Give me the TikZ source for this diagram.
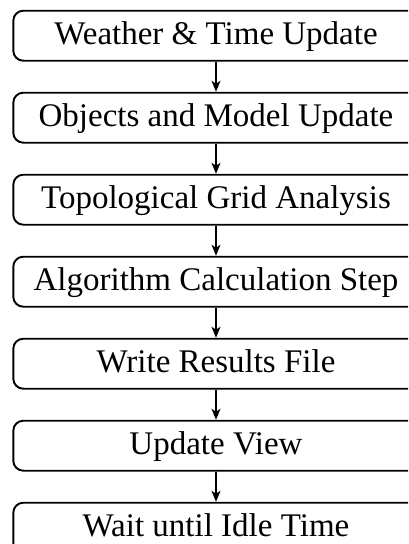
\documentclass[tikz,border=0pt]{standalone}
\usepackage{fontspec}
\setmainfont{Liberation Serif}
\usetikzlibrary{arrows.meta}

\tikzset{
  stepbox/.style={
    draw, line width=1.9pt, rounded corners=10pt,
    rectangle, minimum width=405.4pt, minimum height=50pt,
    inner sep=0pt, text height=22pt, text depth=4pt,
    font=\fontsize{33}{40}\selectfont
  },
  flow/.style={line width=1.4pt, -{Stealth[length=11pt,width=9pt,inset=3pt]}}
}

\begin{document}
\begin{tikzpicture}[x=1pt,y=1pt]
  \useasboundingbox (0,0) rectangle (408,-544);
  \clip (0,0) rectangle (408,-544);

  \node[stepbox] (b1) at (216,-35.7)  {Weather \& Time Update};
  \node[stepbox] (b2) at (216,-117.7) {Objects and Model Update};
  \node[stepbox] (b3) at (216,-199.7) {Topological Grid Analysis};
  \node[stepbox] (b4) at (216,-281.7) {Algorithm Calculation Step};
  \node[stepbox] (b5) at (216,-363.7) {Write Results File};
  \node[stepbox] (b6) at (216,-445.7) {Update View};
  \node[stepbox] (b7) at (216,-527.7) {Wait until Idle Time};

  \foreach \a/\b in {b1/b2,b2/b3,b3/b4,b4/b5,b5/b6,b6/b7}
    \draw[flow] (\a) -- (\b);
\end{tikzpicture}
\end{document}
